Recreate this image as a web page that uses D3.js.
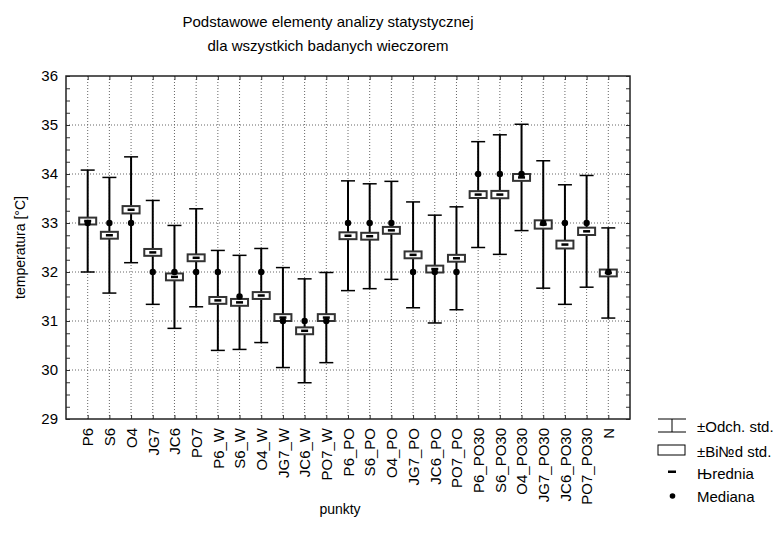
<!DOCTYPE html>
<html>
<head>
<meta charset="utf-8">
<script src="https://cdn.jsdelivr.net/npm/d3@7"></script>
<style>
  body { margin: 0; background: #fff; }
  text { font-family: "Liberation Sans", Arial, sans-serif; fill: #000; }
</style>
</head>
<body>
<svg id="chart" width="781" height="540"></svg>
<script>
/* ---------- data ---------- */
const categories = [
  'P6', 'S6', 'O4', 'JG7', 'JC6', 'PO7',
  'P6_W', 'S6_W', 'O4_W', 'JG7_W', 'JC6_W', 'PO7_W',
  'P6_PO', 'S6_PO', 'O4_PO', 'JG7_PO', 'JC6_PO', 'PO7_PO',
  'P6_PO30', 'S6_PO30', 'O4_PO30', 'JG7_PO30', 'JC6_PO30', 'PO7_PO30', 'N'
];
const means = [
  33.04, 32.75, 33.27, 32.40, 31.90, 32.29,
  31.42, 31.38, 31.52, 31.07, 30.80, 31.07,
  32.74, 32.73, 32.85, 32.35, 32.06, 32.28,
  33.58, 33.58, 33.93, 32.97, 32.56, 32.83, 31.98
];
const medians = [
  33, 33, 33, 32, 32, 32,
  32, 31.5, 32, 31, 31, 31,
  33, 33, 33, 32, 32, 32,
  34, 34, 34, 33, 33, 33, 32
];
const sds = [
  1.04, 1.18, 1.08, 1.06, 1.05, 1.00,
  1.02, 0.96, 0.96, 1.02, 1.06, 0.92,
  1.12, 1.07, 1.00, 1.08, 1.10, 1.05,
  1.08, 1.22, 1.085, 1.30, 1.22, 1.14, 0.92
];
const ses = [
  0.07, 0.07, 0.075, 0.07, 0.07, 0.07,
  0.07, 0.07, 0.07, 0.07, 0.07, 0.07,
  0.07, 0.07, 0.07, 0.07, 0.07, 0.07,
  0.07, 0.075, 0.07, 0.085, 0.08, 0.075, 0.07
];
const yTicks = [29, 30, 31, 32, 33, 34, 35, 36];
const titleLines = [
  'Podstawowe elementy analizy statystycznej',
  'dla wszystkich badanych wieczorem'
];
const xTitle = 'punkty';
const yTitle = 'temperatura [°C]';
const legendLabels = ['±Odch. std.', '±Bі№d std.', 'Њrednia', 'Mediana'];

/* ---------- layout ---------- */
const W = 781, H = 540;
const margin = { top: 76, right: 151, bottom: 121, left: 66 };
const plotW = W - margin.left - margin.right;
const plotH = H - margin.top - margin.bottom;

const svg = d3.select('#chart');
const g = svg.append('g').attr('transform', `translate(${margin.left},${margin.top})`);

const x = d3.scalePoint().domain(categories).range([0, plotW]).padding(1);
const y = d3.scaleLinear().domain([29, 36]).range([plotH, 0]);

const rows = categories.map((c, i) => ({
  cat: c, mean: means[i], median: medians[i], sd: sds[i], se: ses[i]
}));

/* ---------- grid ---------- */
g.append('g')
  .selectAll('line')
  .data(yTicks.slice(1, -1))
  .join('line')
  .attr('x1', 0).attr('x2', plotW)
  .attr('y1', d => y(d)).attr('y2', d => y(d))
  .attr('stroke', '#666').attr('stroke-width', 1)
  .attr('stroke-dasharray', '1,2');

g.append('g')
  .selectAll('line')
  .data(categories)
  .join('line')
  .attr('x1', d => x(d)).attr('x2', d => x(d))
  .attr('y1', 0).attr('y2', plotH)
  .attr('stroke', '#666').attr('stroke-width', 1)
  .attr('stroke-dasharray', '1,2');

/* ---------- axes ---------- */
const minor = d3.range(29, 36.001, 0.25);

g.append('g')
  .call(d3.axisLeft(y).tickValues(minor).tickSize(-4).tickFormat(''))
  .call(a => a.select('.domain').remove())
  .selectAll('line').attr('stroke', '#333');
g.append('g')
  .attr('transform', `translate(${plotW},0)`)
  .call(d3.axisRight(y).tickValues(minor).tickSize(-4).tickFormat(''))
  .call(a => a.select('.domain').remove())
  .selectAll('line').attr('stroke', '#333');
g.append('g')
  .call(d3.axisTop(x).tickSize(-4).tickFormat(''))
  .call(a => a.select('.domain').remove())
  .selectAll('line').attr('stroke', '#333');

const yAxis = g.append('g')
  .call(d3.axisLeft(y).tickValues(yTicks).tickFormat(d3.format('d')).tickSize(0).tickPadding(8));
yAxis.select('.domain').remove();
yAxis.selectAll('text')
  .style('font-size', '15px')
  .style('font-family', '"Liberation Sans", Arial, sans-serif');

const xAxis = g.append('g')
  .attr('transform', `translate(0,${plotH})`)
  .call(d3.axisBottom(x).tickSize(-4).tickPadding(0));
xAxis.select('.domain').remove();
xAxis.selectAll('line').attr('stroke', '#333');
xAxis.selectAll('text')
  .attr('transform', 'rotate(-90)')
  .attr('x', -9)
  .attr('y', 0)
  .attr('dy', '0.35em')
  .attr('text-anchor', 'end')
  .style('font-size', '15px')
  .style('font-family', '"Liberation Sans", Arial, sans-serif');

g.append('rect')
  .attr('width', plotW).attr('height', plotH)
  .attr('fill', 'none').attr('stroke', '#222').attr('stroke-width', 1.5);

/* ---------- marks ---------- */
const marks = g.append('g').selectAll('g').data(rows).join('g')
  .attr('transform', d => `translate(${x(d.cat)},0)`);

marks.append('line')
  .attr('y1', d => y(d.mean + d.sd)).attr('y2', d => y(d.mean - d.sd))
  .attr('stroke', '#000').attr('stroke-width', 2);
marks.selectAll('.cap')
  .data(d => [d.mean + d.sd, d.mean - d.sd])
  .join('line')
  .attr('class', 'cap')
  .attr('x1', -7).attr('x2', 7)
  .attr('y1', v => y(v)).attr('y2', v => y(v))
  .attr('stroke', '#000').attr('stroke-width', 1.5);
marks.append('rect')
  .attr('x', -8.5).attr('width', 17)
  .attr('y', d => y(d.mean + d.se))
  .attr('height', d => y(d.mean - d.se) - y(d.mean + d.se))
  .attr('fill', '#fff').attr('stroke', '#333').attr('stroke-width', 2);
marks.append('rect')
  .attr('x', -3.5).attr('width', 7)
  .attr('y', d => y(d.mean) - 1.25).attr('height', 2.5)
  .attr('fill', '#000');
marks.append('circle')
  .attr('cy', d => y(d.median)).attr('r', 3.2)
  .attr('fill', '#000');

/* ---------- titles ---------- */
svg.append('g').selectAll('text').data(titleLines).join('text')
  .attr('x', 328).attr('y', (d, i) => 27 + i * 24)
  .attr('text-anchor', 'middle')
  .style('font-size', '15px')
  .text(d => d);

svg.append('text')
  .attr('x', 340).attr('y', 514)
  .attr('text-anchor', 'middle')
  .style('font-size', '14px')
  .text(xTitle);

svg.append('text')
  .attr('transform', `translate(25,${margin.top + plotH / 2}) rotate(-90)`)
  .attr('text-anchor', 'middle')
  .style('font-size', '14px')
  .text(yTitle);

/* ---------- legend ---------- */
const lg = svg.append('g').attr('transform', 'translate(658,0)');
lg.append('path')
  .attr('d', 'M0,419H28M0,432H28M14,419V432')
  .attr('fill', 'none').attr('stroke', '#000').attr('stroke-width', 1);
lg.append('rect')
  .attr('x', 0).attr('y', 445).attr('width', 27).attr('height', 10)
  .attr('fill', '#fff').attr('stroke', '#000').attr('stroke-width', 1);
lg.append('rect')
  .attr('x', 10).attr('y', 470.5).attr('width', 8).attr('height', 2.5)
  .attr('fill', '#000');
lg.append('circle')
  .attr('cx', 14.5).attr('cy', 496).attr('r', 2.8)
  .attr('fill', '#000');
lg.selectAll('.lbl').data(legendLabels).join('text')
  .attr('class', 'lbl')
  .attr('x', 39)
  .attr('y', (d, i) => [432, 457, 479, 502][i])
  .style('font-size', '15px')
  .text(d => d);
</script>
</body>
</html>
